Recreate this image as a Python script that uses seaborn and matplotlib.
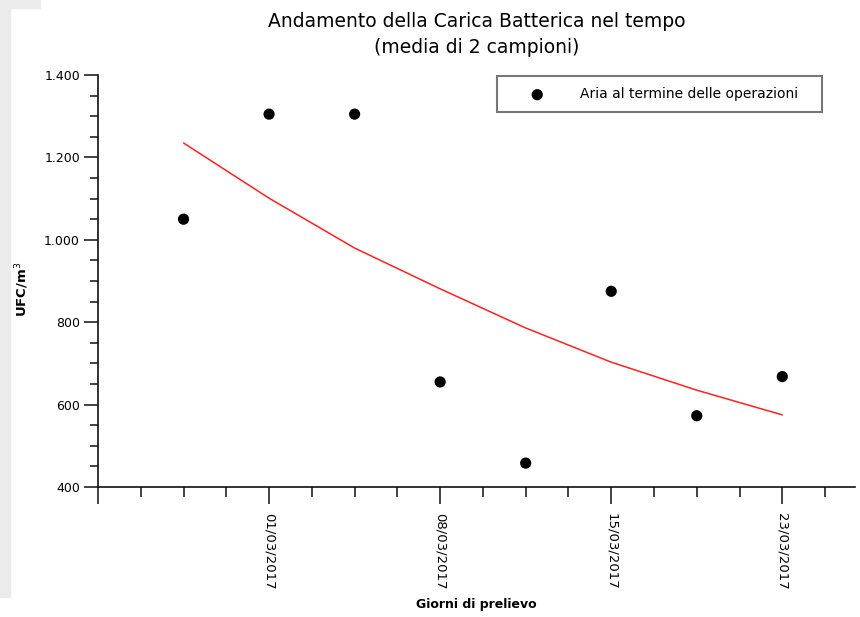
import numpy as np
import pandas as pd
import seaborn as sns
import matplotlib.pyplot as plt
from matplotlib.ticker import FuncFormatter, MultipleLocator
from matplotlib.patches import Rectangle

# dati
campione = [1, 2, 3, 4, 5, 6, 7, 8]
ufc = [1050, 1305, 1305, 655, 458, 875, 573, 668]
tendenza = [1235, 1101, 980, 881, 786, 703, 635, 575]
etichette_pos = [2, 4, 6, 8]
etichette = ['01/03/2017', '08/03/2017', '15/03/2017', '23/03/2017']

df = pd.DataFrame({'campione': campione, 'ufc': ufc, 'tendenza': tendenza})

sns.set_style('ticks')
plt.rcParams['font.family'] = ['DejaVu Sans']
plt.rcParams['text.color'] = 'black'
plt.rcParams['axes.labelcolor'] = 'black'
plt.rcParams['xtick.color'] = 'black'
plt.rcParams['ytick.color'] = 'black'

fig = plt.figure(figsize=(8.6, 6.17), dpi=100)
# sfondo grigio chiaro a sinistra (filigrana)
fig.patches.append(Rectangle((0, 1 - 8 / 617), 40 / 860, 8 / 617, transform=fig.transFigure,
                             color='#ebebeb', zorder=0))
fig.patches.append(Rectangle((0, 20 / 617), 10 / 860, 1 - 28 / 617, transform=fig.transFigure,
                             color='#ebebeb', zorder=0))

ax = fig.add_axes([98 / 860, 1 - 487 / 617, 757 / 860, 412 / 617])

sns.lineplot(data=df, x='campione', y='tendenza', color='#ff2020', linewidth=1.1, ax=ax,
             legend=False)
sns.scatterplot(data=df, x='campione', y='ufc', color='black', s=65, edgecolor='none',
                label='Aria al termine delle operazioni', ax=ax, zorder=3)

ax.set_xlim(0, 8.85)
ax.set_ylim(400, 1400)
sns.despine(ax=ax)
for sp in ['left', 'bottom']:
    ax.spines[sp].set_linewidth(1.2)
    ax.spines[sp].set_color('#111111')

ax.yaxis.set_major_locator(MultipleLocator(200))
ax.yaxis.set_minor_locator(MultipleLocator(50))
ax.yaxis.set_major_formatter(FuncFormatter(lambda v, p: f'{int(v):,}'.replace(',', '.')))
ax.set_xticks([0] + etichette_pos)
ax.set_xticklabels([''] + etichette, rotation=270)
ax.xaxis.set_minor_locator(MultipleLocator(0.5))

ax.tick_params(axis='y', which='major', length=10, width=1.1, labelsize=9, pad=3, color='#111111')
ax.tick_params(axis='y', which='minor', length=6, width=1.1, color='#111111')
ax.tick_params(axis='x', which='major', length=12, width=1.1, labelsize=9.5, pad=7, color='#111111')
ax.tick_params(axis='x', which='minor', length=7, width=1.1, color='#111111')

ax.set_xlabel('Giorni di prelievo', fontsize=9, fontweight='bold')
ax.set_ylabel('UFC/m$^3$', fontsize=9.5, fontweight='bold')
ax.xaxis.set_label_coords(0.5, -0.27)
ax.yaxis.set_label_coords(-0.088, 0.48)

ax.set_title('Andamento della Carica Batterica nel tempo\n(media di 2 campioni)',
             fontsize=13.5, linespacing=1.45, pad=16, color='black')

leg = ax.legend(loc='upper left', bbox_to_anchor=(0.527, 0.997, 0.429, 0.0), mode='expand',
                fontsize=10, frameon=True, fancybox=False, handlelength=4.2,
                handletextpad=1.0, borderpad=0.8, markerscale=1.0, borderaxespad=0)
leg.get_frame().set_edgecolor('#555555')
leg.get_frame().set_linewidth(1.5)

fig.savefig('out.png', dpi=100)
